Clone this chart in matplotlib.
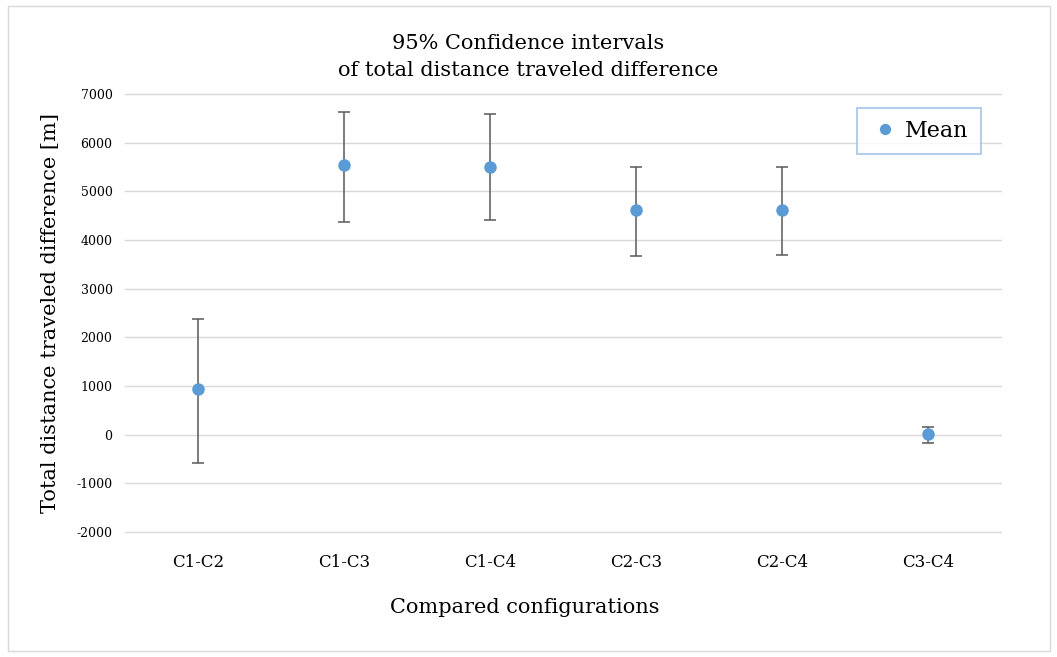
import numpy as np
import matplotlib.pyplot as plt
from matplotlib.patches import Rectangle

# data
configs = ["C1-C2", "C1-C3", "C1-C4", "C2-C3", "C2-C4", "C3-C4"]
means = [945, 5545, 5510, 4615, 4615, 20]
upper = [2385, 6635, 6590, 5510, 5490, 160]
lower = [-575, 4375, 4420, 3670, 3690, -180]

plt.rcParams['font.family'] = ['DejaVu Serif']
plt.rcParams['axes.unicode_minus'] = False

fig = plt.figure(figsize=(10.57, 6.57), dpi=100)
ax = fig.add_axes([125/1057, 1 - 532/657, (1001-125)/1057, (532-94)/657])

x = np.arange(len(configs))
m = np.array(means)
yerr = [m - np.array(lower), np.array(upper) - m]

ax.errorbar(x, m, yerr=yerr, fmt='none', ecolor='#595959', elinewidth=1.1,
            capsize=4, capthick=1.1, zorder=2)
ax.plot(x, m, 'o', color='#5B9BD5', markersize=9, markeredgewidth=0,
        label='Mean', zorder=3)

ax.set_xlim(-0.5, 5.5)
ax.set_ylim(-2000, 7000)
ax.set_yticks(np.arange(-2000, 7001, 1000))
ax.set_xticks(x)
ax.set_xticklabels(configs, fontsize=12)
ax.tick_params(axis='y', labelsize=9, length=0, pad=9)
ax.tick_params(axis='x', length=0, pad=16)
ax.grid(axis='y', color='#d9d9d9', linewidth=1)
for gl in ax.get_ygridlines():
    gl.set_clip_on(False)
ax.set_axisbelow(True)
for s in ax.spines.values():
    s.set_visible(False)

# title centred on the whole figure, like the original
fig.text(0.5, 1 - 57/657, "95% Confidence intervals\nof total distance traveled difference",
         fontsize=15, ha='center', va='center', linespacing=1.5)
ax.set_ylabel("Total distance traveled difference [m]", fontsize=15, labelpad=12)
ax.set_xlabel("Compared configurations", fontsize=15)
ax.xaxis.set_label_coords((525 - 125) / 876, -(598 - 532) / 438)

leg = ax.legend(loc='upper right', bbox_to_anchor=(0.977, 0.968), fontsize=16,
                frameon=True, fancybox=False, handletextpad=0.2,
                borderpad=0.55, markerscale=0.9, handlelength=1.4,
                borderaxespad=0)
leg.get_frame().set_edgecolor('#8fb4e3')
leg.get_frame().set_linewidth(1.2)

# outer chart border
fig.patches.append(Rectangle((8/1057, 1 - 651/657), 1042/1057, 645/657,
                             transform=fig.transFigure, fill=False,
                             edgecolor='#d9d9d9', linewidth=1))

fig.savefig("out.png", dpi=100)
